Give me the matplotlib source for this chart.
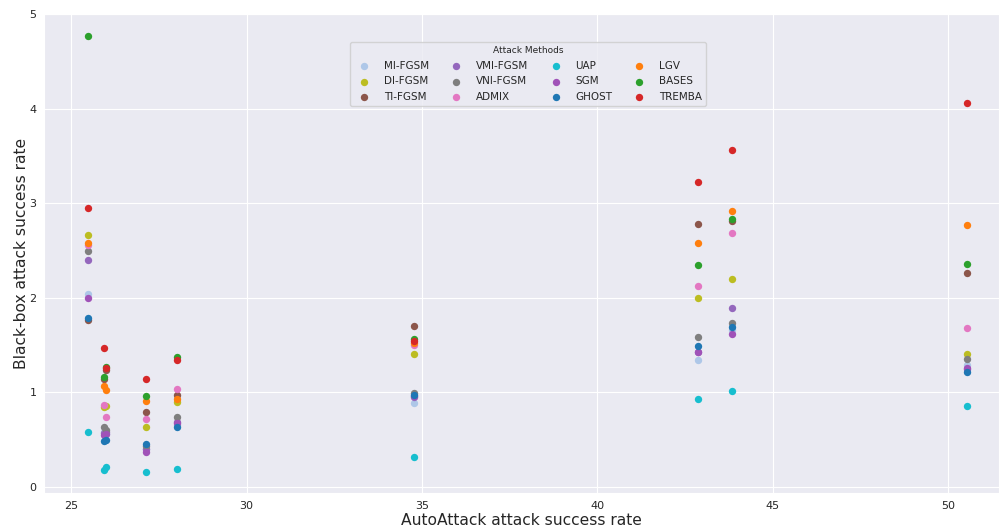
import matplotlib
matplotlib.use('Agg')
import matplotlib.pyplot as plt
import seaborn as sns

sns.set_style('darkgrid')
plt.rcParams['font.family'] = ['DejaVu Sans']

# AutoAttack success rate of each model (x)
autoattack = [25.48, 25.93, 25.99, 27.14, 28.01, 34.76, 42.87, 43.84, 50.53]

methods = ['MI-FGSM', 'DI-FGSM', 'TI-FGSM', 'VMI-FGSM', 'VNI-FGSM', 'ADMIX',
           'UAP', 'SGM', 'GHOST', 'LGV', 'BASES', 'TREMBA']

# black-box attack success rate per method, one value per model
mi_fgsm = [2.04, 0.58, 0.56, 0.40, 0.66, 0.89, 1.34, 1.66, 1.29]
di_fgsm = [2.66, 0.85, 0.86, 0.63, 0.90, 1.41, 2.00, 2.20, 1.41]
ti_fgsm = [1.77, 1.14, 1.24, 0.79, 0.97, 1.70, 2.78, 2.81, 2.26]
vmi_fgsm = [2.40, 0.57, 0.58, 0.40, 0.69, 0.95, 1.43, 1.89, 1.25]
vni_fgsm = [2.49, 0.64, 0.60, 0.43, 0.74, 0.99, 1.59, 1.73, 1.35]
admix = [2.56, 0.87, 0.74, 0.72, 1.04, 1.50, 2.12, 2.69, 1.68]
uap = [0.58, 0.18, 0.21, 0.16, 0.19, 0.32, 0.93, 1.02, 0.86]
sgm = [2.00, 0.55, 0.56, 0.37, 0.68, 0.96, 1.43, 1.62, 1.26]
ghost = [1.79, 0.49, 0.50, 0.46, 0.63, 0.97, 1.49, 1.69, 1.22]
lgv = [2.58, 1.07, 1.03, 0.91, 0.93, 1.52, 2.58, 2.92, 2.77]
bases = [4.77, 1.16, 1.27, 0.96, 1.38, 1.56, 2.35, 2.83, 2.36]
tremba = [2.95, 1.47, 1.26, 1.14, 1.34, 1.54, 3.22, 3.56, 4.06]

series = [mi_fgsm, di_fgsm, ti_fgsm, vmi_fgsm, vni_fgsm, admix,
          uap, sgm, ghost, lgv, bases, tremba]
colors = ['#aec7e8', '#bcbd22', '#8c564b', '#9467bd', '#7f7f7f', '#e377c2',
          '#17becf', '#a052b8', '#1f77b4', '#ff7f0e', '#2ca02c', '#d62728']

fig = plt.figure(figsize=(10, 5.29), dpi=100)
ax = fig.add_axes([0.044, 0.068, 0.955, 0.9055])

for name, vals, c in zip(methods, series, colors):
    ax.scatter(autoattack, vals, s=28, color=c, linewidths=0, label=name)

ax.set_xlim(24.23, 51.44)
ax.set_ylim(-0.063, 5.0)
ax.set_xticks([25, 30, 35, 40, 45, 50])
ax.set_yticks([0, 1, 2, 3, 4, 5])
ax.tick_params(labelsize=8, colors='#262626', pad=2)
ax.set_xlabel('AutoAttack attack success rate', fontsize=11.2, labelpad=2)
ax.set_ylabel('Black-box attack success rate', fontsize=11.2, labelpad=0)

leg = ax.legend(title='Attack Methods', ncol=4, loc='upper center',
                bbox_to_anchor=(0.507, 0.953), fontsize=7.5, title_fontsize=6.5,
                columnspacing=1.6, handletextpad=0.9, labelspacing=0.55,
                scatterpoints=1, markerscale=1.0)

fig.savefig('out.png', dpi=100)
